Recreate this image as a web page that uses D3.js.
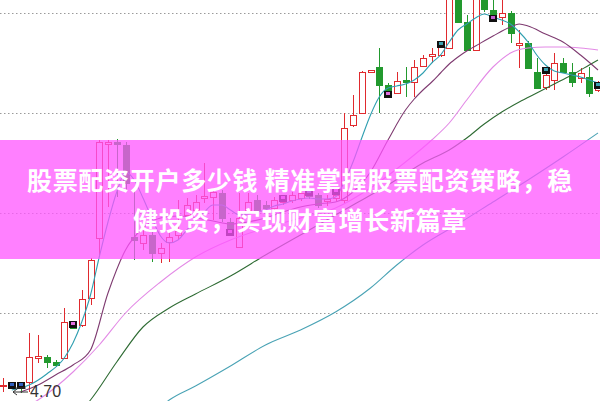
<!DOCTYPE html>
<html>
<head>
<meta charset="utf-8">
<script src="https://cdn.jsdelivr.net/npm/d3@7"></script>
<style>
  body { margin: 0; background: #fff; }
  svg { display: block; }
</style>
</head>
<body>
<svg id="chart" width="600" height="401"></svg>
<script>
// ---------- data ----------
const days = d3.range(69);
const open  = [4.77,4.77,4.76,4.81,5.05,5.06,5.01,5.05,5.38,5.38,5.65,6.25,7.19,7.21,7.18,6.26,6.20,6.28,6.10,6.21,
               6.28,6.48,6.53,6.65,6.66,6.70,6.41,6.16,6.53,6.63,6.58,6.55,6.61,6.63,6.65,6.70,6.68,6.62,6.65,6.63,
               7.38,7.50,7.91,7.96,7.78,7.70,7.83,7.81,7.97,8.07,8.08,8.15,8.68,8.41,8.13,8.68,8.53,8.46,8.50,8.18,
               8.20,7.91,7.76,7.83,8.00,7.91,7.85,7.86,7.73];
const close = [4.78,4.76,4.75,5.06,5.07,5.01,4.98,5.41,5.35,5.64,6.03,7.21,7.21,7.19,6.80,6.23,6.28,6.10,6.15,6.26,
               6.32,6.58,6.61,6.67,6.71,6.45,6.33,6.45,6.61,6.53,6.55,6.63,6.65,6.68,6.70,6.67,6.58,6.64,6.68,7.35,
               7.48,7.91,7.93,7.78,7.72,7.82,7.81,7.96,8.05,8.09,8.16,8.73,8.41,8.13,8.68,8.54,8.46,8.50,8.30,8.20,
               7.95,7.75,7.88,8.00,7.91,7.81,7.90,7.70,7.80];
const high  = [4.85,4.79,4.78,5.30,5.28,5.08,5.03,5.55,5.41,5.73,6.05,7.23,7.23,7.24,7.21,6.73,6.33,6.33,6.20,6.30,
               6.63,6.65,6.68,7.00,6.75,6.73,6.45,6.70,6.70,6.68,6.62,6.66,6.68,6.71,6.74,6.72,6.70,6.68,6.71,7.50,
               7.68,7.92,7.93,8.15,7.80,7.91,7.96,8.03,8.08,8.15,8.18,8.80,8.75,8.48,8.75,8.72,8.63,8.63,8.52,8.33,
               8.22,8.05,7.90,8.10,8.05,8.00,7.95,7.96,7.82];
const low   = [4.71,4.74,4.70,4.71,5.00,4.95,4.96,5.04,5.34,5.36,5.58,6.06,6.56,6.66,6.73,6.03,6.13,6.01,6.00,6.01,
               6.23,6.43,6.50,6.60,6.43,6.41,6.28,6.15,6.51,6.49,6.50,6.52,6.58,6.60,6.62,6.64,6.55,6.57,6.62,6.60,
               7.36,7.49,7.91,7.50,7.70,7.69,7.66,7.66,7.96,8.00,8.06,8.14,8.40,8.12,8.12,8.51,8.44,8.38,8.20,7.95,
               7.94,7.74,7.73,7.73,7.90,7.76,7.80,7.66,7.71];

// moving-average lines: [day index, price]
const ma5  = [[1,4.73],[3,4.78],[5,4.89],[7,5.05],[8,5.20],[9,5.41],[10,5.68],[11,6.06],[12,6.41],[13,6.71],[14,6.91],
              [15,6.83],[16,6.65],[17,6.45],[18,6.27],[19,6.20],[20,6.23],[21,6.33],[22,6.43],[23,6.51],[24,6.58],
              [25,6.58],[26,6.53],[27,6.48],[28,6.49],[29,6.51],[30,6.53],[31,6.57],[32,6.59],[33,6.62],[34,6.64],
              [35,6.65],[36,6.64],[37,6.64],[38,6.66],[39,6.81],[40,7.01],[41,7.25],[42,7.48],[43,7.66],[44,7.75],
              [45,7.77],[46,7.79],[47,7.83],[48,7.90],[49,8.00],[50,8.08],[51,8.21],[52,8.33],[53,8.39],[54,8.45],
              [55,8.49],[56,8.46],[57,8.43],[58,8.39],[59,8.31],[60,8.21],[61,8.08],[62,7.98],[63,7.92],[64,7.90],
              [65,7.88],[66,7.86],[67,7.83],[68,7.80]];
const ma10 = [[2,4.71],[4,4.78],[6,4.88],[8,4.98],[10,5.13],[12,5.70],[14,6.13],[16,6.35],[18,6.45],[20,6.47],
              [22,6.45],[24,6.42],[26,6.39],[28,6.41],[30,6.45],[32,6.51],[34,6.56],[36,6.59],[38,6.61],[40,6.71],
              [42,6.91],[44,7.23],[46,7.53],[47,7.64],[48,7.73],[49,7.81],[50,7.90],[51,7.99],[52,8.06],[53,8.12],
              [54,8.17],[56,8.27],[58,8.36],[59,8.39],[60,8.37],[62,8.29],[64,8.21],[66,8.08],[68,7.93]];
const ma20 = [[3,4.58],[4,4.63],[8,4.91],[11,5.18],[14,5.50],[18,5.81],[22,6.06],[26,6.23],[30,6.35],[34,6.45],
              [38,6.55],[42,6.75],[46,7.01],[49,7.23],[51,7.40],[53,7.63],[56,7.96],[58,8.10],[60,8.15],[62,8.16],
              [64,8.16],[66,8.15],[68,8.13]];
const ma30 = [[9,4.53],[10,4.63],[13,5.01],[16,5.36],[19,5.55],[22,5.69],[26,5.87],[30,6.08],[35,6.33],[40,6.58],
              [44,6.78],[48,7.00],[51,7.13],[53,7.25],[55,7.39],[57,7.51],[59,7.61],[61,7.70],[63,7.79],[65,7.88],
              [67,7.98],[68,8.03]];
const ma60 = [[18,4.56],[19,4.63],[22,4.77],[26,4.97],[30,5.18],[34,5.33],[38,5.51],[42,5.75],[45,5.98],[48,6.18],
              [52,6.39],[56,6.61],[60,6.83],[64,7.06],[68,7.30]];

const markerDays   = [1,2,8,26,32,35,38,44,50,56,62,68];
const markerPrices = [4.77,4.77,5.38,6.30,6.64,6.70,6.71,7.68,8.18,8.44,7.92,7.77];

const gridPrices = [5.5, 6.5, 7.5, 8.5];
const titleLines = ["股票配资开户多少钱 精准掌握股票配资策略，稳", "健投资，实现财富增长新篇章"];

// ---------- styles ----------
const UP = "#e02a2e", DOWN = "#22992e";
const lineStyles = [
  {data: ma60, color: "#4aa3b5"},
  {data: ma30, color: "#2e6b33"},
  {data: ma20, color: "#e38ae6"},
  {data: ma10, color: "#7e3a70"},
  {data: ma5,  color: "#2f9fb0"}
];
const markerColors = ["#3060c0","#3060c0","#e070e0","#e070e0","#e070e0","#3aa0b0","#e070e0","#e070e0","#3aa0b0","#c060d0","#3aa0b0","#3aa0b0"];

// ---------- scales ----------
const W = 600, H = 401;
const x = d3.scaleLinear().domain([0, 68]).range([3, 598]);
const y = d3.scaleLinear().domain([4.70, 8.63]).range([393, 0]);

const svg = d3.select("#chart");

// grid
svg.append("g").selectAll("line").data(gridPrices).join("line")
  .attr("x1", 0).attr("x2", W)
  .attr("y1", d => Math.round(y(d)) + 0.5).attr("y2", d => Math.round(y(d)) + 0.5)
  .attr("stroke", "#9a9a9a").attr("stroke-width", 1).attr("stroke-dasharray", "1.5,2.5");

// candles
const candles = svg.append("g").selectAll("g").data(days).join("g");
const cx = i => Math.round(x(i)) + 0.5;
candles.append("line")
  .attr("x1", cx).attr("x2", cx)
  .attr("y1", i => y(high[i])).attr("y2", i => y(low[i]))
  .attr("stroke", i => close[i] >= open[i] ? UP : DOWN).attr("stroke-width", 1);
candles.append("rect")
  .attr("x", i => Math.round(x(i)) - 2.5)
  .attr("width", 6)
  .attr("y", i => Math.round(y(Math.max(open[i], close[i]))) + 0.5)
  .attr("height", i => Math.max(1, Math.round(Math.abs(y(open[i]) - y(close[i])))))
  .attr("fill", i => close[i] >= open[i] ? "#fff" : DOWN)
  .attr("stroke", i => close[i] >= open[i] ? UP : DOWN)
  .attr("stroke-width", 1);

// moving averages
const lineGen = d3.line().x(d => x(d[0])).y(d => y(d[1])).curve(d3.curveMonotoneX);
svg.append("g").selectAll("path").data(lineStyles).join("path")
  .attr("d", d => lineGen(d.data))
  .attr("fill", "none").attr("stroke", d => d.color).attr("stroke-width", 1.1);

// markers
const mk = svg.append("g").selectAll("g").data(markerDays.map((d, k) => k)).join("g")
  .attr("transform", k => `translate(${Math.round(x(markerDays[k])) - 4},${Math.round(y(markerPrices[k])) - 4})`);
mk.append("rect").attr("width", 8).attr("height", 7).attr("fill", "#111");
mk.append("rect").attr("x", 2).attr("y", 1).attr("width", 4).attr("height", 3).attr("fill", k => markerColors[k]);

// low label
const minLow = d3.min(low);
const ly = y(minLow);
svg.append("path")
  .attr("d", `M13,${ly - 1}H28M13,${ly - 1}l4,-3M13,${ly - 1}l4,3M15,${ly - 5}H26`)
  .attr("stroke", "#333").attr("stroke-width", 1).attr("fill", "none");
svg.append("text")
  .attr("x", 30).attr("y", ly + 4)
  .attr("font-family", "Liberation Sans, Arial, sans-serif").attr("font-size", 16)
  .attr("fill", "#333").text(d3.format(".2f")(minLow));

// banner
svg.append("rect").attr("x", 0).attr("y", 140).attr("width", W).attr("height", 119)
  .attr("fill", "#ff55ff").attr("opacity", 0.75);
svg.append("g").selectAll("text").data(titleLines).join("text")
  .attr("x", W / 2).attr("y", (d, i) => 190 + i * 40)
  .attr("text-anchor", "middle")
  .attr("font-family", "Noto Sans CJK SC, sans-serif")
  .attr("font-weight", "bold").attr("font-size", 25)
  .attr("letter-spacing", 0.7)
  .attr("fill", "#fff")
  .text(d => d);
</script>
</body>
</html>
